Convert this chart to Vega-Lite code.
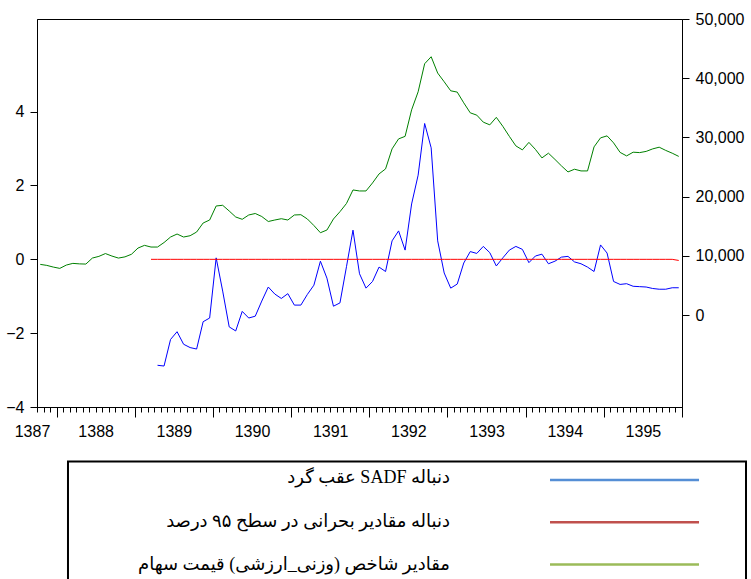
{
  "$schema": "https://vega.github.io/schema/vega-lite/v6.json",
  "autosize": {"type": "pad"},
  "padding": {"left": 5, "top": 10, "right": 0, "bottom": 0},
  "background": "white",
  "bounds": "flush",
  "spacing": 43.5,
  "config": {
    "font": "Liberation Sans",
    "axis": {"labelFont": "Liberation Sans", "labelFontSize": 16, "labelColor": "black", "domainColor": "black", "tickColor": "black", "grid": false, "title": null}
  },
  "datasets": {
    "index": [
      {"t":0,"value":8573},{"t":1,"value":8404},{"t":2,"value":8117},{"t":3,"value":7897},{"t":4,"value":8455},{"t":5,"value":8742},{"t":6,"value":8658},{"t":7,"value":8624},{"t":8,"value":9639},{"t":9,"value":9926},
      {"t":10,"value":10400},{"t":11,"value":9977},{"t":12,"value":9639},{"t":13,"value":9842},{"t":14,"value":10281},{"t":15,"value":11330},{"t":16,"value":11786},{"t":17,"value":11499},{"t":18,"value":11499},{"t":19,"value":12260},
      {"t":20,"value":13190},{"t":21,"value":13697},{"t":22,"value":13190},{"t":23,"value":13410},{"t":24,"value":14035},{"t":25,"value":15557},{"t":26,"value":16064},{"t":27,"value":18432},{"t":28,"value":18550},{"t":29,"value":17586},
      {"t":30,"value":16572},{"t":31,"value":16183},{"t":32,"value":16910},{"t":33,"value":17164},{"t":34,"value":16656},{"t":35,"value":15811},{"t":36,"value":16064},{"t":37,"value":16284},{"t":38,"value":16064},{"t":39,"value":16910},
      {"t":40,"value":16961},{"t":41,"value":16234},{"t":42,"value":15134},{"t":43,"value":13917},{"t":44,"value":14373},{"t":45,"value":16234},{"t":46,"value":17468},{"t":47,"value":18854},{"t":48,"value":21137},{"t":49,"value":20968},
      {"t":50,"value":20968},{"t":51,"value":22321},{"t":52,"value":23843},{"t":53,"value":24689},{"t":54,"value":28071},{"t":55,"value":29761},{"t":56,"value":30184},{"t":57,"value":34665},{"t":58,"value":37709},{"t":59,"value":42443},
      {"t":60,"value":43627},{"t":61,"value":40871},{"t":62,"value":39400},{"t":63,"value":37878},{"t":64,"value":37659},{"t":65,"value":35849},{"t":66,"value":34158},{"t":67,"value":33769},{"t":68,"value":32585},{"t":69,"value":32129},
      {"t":70,"value":33397},{"t":71,"value":31875},{"t":72,"value":30184},{"t":73,"value":28578},{"t":74,"value":27902},{"t":75,"value":29170},{"t":76,"value":27986},{"t":77,"value":26549},{"t":78,"value":27343},{"t":79,"value":26295},
      {"t":80,"value":25196},{"t":81,"value":24181},{"t":82,"value":24638},{"t":83,"value":24350},{"t":84,"value":24350},{"t":85,"value":28409},{"t":86,"value":29931},{"t":87,"value":30269},{"t":88,"value":29085},{"t":89,"value":27479},
      {"t":90,"value":26887},{"t":91,"value":27513},{"t":92,"value":27445},{"t":93,"value":27648},{"t":94,"value":28071},{"t":95,"value":28358},{"t":96,"value":27817},{"t":97,"value":27343},{"t":98,"value":26802}
    ],
    "sadf": [
      {"t":18,"value":-2.87},{"t":19,"value":-2.89},{"t":20,"value":-2.17},{"t":21,"value":-1.96},{"t":22,"value":-2.30},{"t":23,"value":-2.39},{"t":24,"value":-2.43},{"t":25,"value":-1.69},{"t":26,"value":-1.59},{"t":27,"value":0.04},
      {"t":28,"value":-0.86},{"t":29,"value":-1.83},{"t":30,"value":-1.94},{"t":31,"value":-1.41},{"t":32,"value":-1.59},{"t":33,"value":-1.54},{"t":34,"value":-1.13},{"t":35,"value":-0.75},{"t":36,"value":-0.94},{"t":37,"value":-1.06},
      {"t":38,"value":-0.93},{"t":39,"value":-1.24},{"t":40,"value":-1.24},{"t":41,"value":-0.95},{"t":42,"value":-0.70},{"t":43,"value":-0.05},{"t":44,"value":-0.51},{"t":45,"value":-1.27},{"t":46,"value":-1.18},{"t":47,"value":-0.2},
      {"t":48,"value":0.79},{"t":49,"value":-0.39},{"t":50,"value":-0.78},{"t":51,"value":-0.60},{"t":52,"value":-0.21},{"t":53,"value":-0.33},{"t":54,"value":0.50},{"t":55,"value":0.77},{"t":56,"value":0.25},{"t":57,"value":1.50},
      {"t":58,"value":2.28},{"t":59,"value":3.68},{"t":60,"value":3.02},{"t":61,"value":0.50},{"t":62,"value":-0.37},{"t":63,"value":-0.78},{"t":64,"value":-0.67},{"t":65,"value":-0.10},{"t":66,"value":0.21},{"t":67,"value":0.16},
      {"t":68,"value":0.35},{"t":69,"value":0.18},{"t":70,"value":-0.18},{"t":71,"value":0.04},{"t":72,"value":0.25},{"t":73,"value":0.35},{"t":74,"value":0.27},{"t":75,"value":-0.09},{"t":76,"value":0.09},{"t":77,"value":0.14},
      {"t":78,"value":-0.12},{"t":79,"value":-0.05},{"t":80,"value":0.06},{"t":81,"value":0.08},{"t":82,"value":-0.07},{"t":83,"value":-0.12},{"t":84,"value":-0.21},{"t":85,"value":-0.33},{"t":86,"value":0.39},{"t":87,"value":0.17},
      {"t":88,"value":-0.60},{"t":89,"value":-0.68},{"t":90,"value":-0.66},{"t":91,"value":-0.73},{"t":92,"value":-0.74},{"t":93,"value":-0.75},{"t":94,"value":-0.79},{"t":95,"value":-0.81},{"t":96,"value":-0.81},{"t":97,"value":-0.77},
      {"t":98,"value":-0.77}
    ],
    "cv": [
      {"t":17,"value":0},{"t":18,"value":0},{"t":19,"value":0},{"t":20,"value":0},{"t":21,"value":0},{"t":22,"value":0},{"t":23,"value":0},{"t":24,"value":0},{"t":25,"value":0},{"t":26,"value":0},
      {"t":27,"value":0},{"t":28,"value":0},{"t":29,"value":0},{"t":30,"value":0},{"t":31,"value":0},{"t":32,"value":0},{"t":33,"value":0},{"t":34,"value":0},{"t":35,"value":0},{"t":36,"value":0},
      {"t":37,"value":0},{"t":38,"value":0},{"t":39,"value":0},{"t":40,"value":0},{"t":41,"value":0},{"t":42,"value":0},{"t":43,"value":0},{"t":44,"value":0},{"t":45,"value":0},{"t":46,"value":0},
      {"t":47,"value":0},{"t":48,"value":0},{"t":49,"value":0},{"t":50,"value":0},{"t":51,"value":0},{"t":52,"value":0},{"t":53,"value":0},{"t":54,"value":0},{"t":55,"value":0},{"t":56,"value":0},
      {"t":57,"value":0},{"t":58,"value":0},{"t":59,"value":0},{"t":60,"value":0},{"t":61,"value":0},{"t":62,"value":0},{"t":63,"value":0},{"t":64,"value":0},{"t":65,"value":0},{"t":66,"value":0},
      {"t":67,"value":0},{"t":68,"value":0},{"t":69,"value":0},{"t":70,"value":0},{"t":71,"value":0},{"t":72,"value":0},{"t":73,"value":0},{"t":74,"value":0},{"t":75,"value":0},{"t":76,"value":0},
      {"t":77,"value":0},{"t":78,"value":0},{"t":79,"value":0},{"t":80,"value":0},{"t":81,"value":0},{"t":82,"value":0},{"t":83,"value":0},{"t":84,"value":0},{"t":85,"value":0},{"t":86,"value":0},
      {"t":87,"value":0},{"t":88,"value":0},{"t":89,"value":0},{"t":90,"value":0},{"t":91,"value":0},{"t":92,"value":0},{"t":93,"value":0},{"t":94,"value":0},{"t":95,"value":0},{"t":96,"value":0},
      {"t":97,"value":0},{"t":98,"value":-0.03}
    ],
    "legend": [
      {"series": "sadf", "label": "\u202bدنباله SADF عقب گرد\u202c"},
      {"series": "cv", "label": "\u202bدنباله مقادیر بحرانی در سطح ۹۵ درصد\u202c"},
      {"series": "index", "label": "\u202bمقادیر شاخص (وزنی_ارزشی) قیمت سهام\u202c"}
    ]
  },
  "vconcat": [
    {
      "width": 645,
      "height": 388,
      "view": {"stroke": "black", "strokeWidth": 1},
      "layer": [
        {
          "data": {"name": "index"},
          "mark": {"type": "line", "color": "#008000", "strokeWidth": 1},
          "encoding": {
            "x": {"field": "t", "type": "quantitative", "scale": {"domain": [-0.5, 98.5], "nice": false, "zero": false},
              "axis": {"values": [-0.5,0.5,1.5,2.5,3.5,4.5,5.5,6.5,7.5,8.5,9.5,10.5,11.5,12.5,13.5,14.5,15.5,16.5,17.5,18.5,19.5,20.5,21.5,22.5,23.5,24.5,25.5,26.5,27.5,28.5,29.5,30.5,31.5,32.5,33.5,34.5,35.5,36.5,37.5,38.5,39.5,40.5,41.5,42.5,43.5,44.5,45.5,46.5,47.5,48.5,49.5,50.5,51.5,52.5,53.5,54.5,55.5,56.5,57.5,58.5,59.5,60.5,61.5,62.5,63.5,64.5,65.5,66.5,67.5,68.5,69.5,70.5,71.5,72.5,73.5,74.5,75.5,76.5,77.5,78.5,79.5,80.5,81.5,82.5,83.5,84.5,85.5,86.5,87.5,88.5,89.5,90.5,91.5,92.5,93.5,94.5,95.5,96.5,97.5,98.5],
                "tickCount": 1000,
                "labelExpr": "datum.value == -0.5 ? '1387' : ((datum.value - 8.5) % 12 == 0 ? '' + (1388 + (datum.value - 8.5) / 12) : '')",
                "tickSize": {"condition": {"test": "(datum.value - 2.5) % 12 == 0", "value": 10}, "value": 5},
                "labelOffset": {"condition": {"test": "datum.value == -0.5", "value": -5}, "value": 0},
                "labelFlush": false, "labelOverlap": false, "labelBound": false, "labelPadding": 11}},
            "y": {"field": "value", "type": "quantitative", "scale": {"domain": [-15506, 50000], "nice": false, "zero": false},
              "axis": {"orient": "right", "values": [0, 10000, 20000, 30000, 40000, 50000], "labelExpr": "format(datum.value, ',')", "tickSize": 7, "labelPadding": 6}}
          }
        },
        {
          "layer": [
            {
              "data": {"name": "sadf"},
              "mark": {"type": "line", "color": "#0000FF", "strokeWidth": 1},
              "encoding": {
                "x": {"field": "t", "type": "quantitative", "scale": {"domain": [-0.5, 98.5], "nice": false, "zero": false}},
                "y": {"field": "value", "type": "quantitative", "scale": {"domain": [-4, 6.51], "nice": false, "zero": false},
                  "axis": {"orient": "left", "values": [-4, -2, 0, 2, 4], "tickSize": 7, "labelPadding": 6}}
              }
            },
            {
              "data": {"name": "cv"},
              "mark": {"type": "line", "color": "#FF0000", "strokeWidth": 1},
              "encoding": {
                "x": {"field": "t", "type": "quantitative"},
                "y": {"field": "value", "type": "quantitative"}
              }
            }
          ]
        }
      ],
      "resolve": {"scale": {"y": "independent"}}
    },
    {
      "width": 714,
      "height": 130,
      "view": {"stroke": null},
      "layer": [
        {
          "data": {"values": [{"item": "legend frame"}]},
          "mark": {"type": "rect", "filled": false, "stroke": "black", "strokeWidth": 2},
          "encoding": {
            "x": {"datum": 4.34, "type": "quantitative", "scale": {"domain": [0, 100], "nice": false, "zero": false}, "axis": null},
            "x2": {"datum": 99.3},
            "y": {"datum": 0, "type": "quantitative", "scale": {"domain": [0, 1], "range": [11, 140], "nice": false, "zero": false}, "axis": null},
            "y2": {"datum": 1}
          }
        },
        {
          "data": {"name": "legend"},
          "mark": {"type": "text", "align": "right", "baseline": "alphabetic", "font": "Liberation Serif, DejaVu Sans", "fontSize": 18, "color": "black"},
          "encoding": {
            "x": {"datum": 57.84, "type": "quantitative"},
            "y": {"field": "series", "type": "nominal", "scale": {"type": "point", "domain": ["sadf", "cv", "index"], "range": [32.8, 119.8], "padding": 0}, "axis": null},
            "text": {"field": "label"}
          }
        },
        {
          "data": {"name": "legend"},
          "mark": {"type": "rule", "strokeWidth": 2.5},
          "encoding": {
            "x": {"datum": 71.85, "type": "quantitative"},
            "x2": {"datum": 92.72},
            "y": {"field": "series", "type": "nominal", "scale": {"type": "point", "domain": ["sadf", "cv", "index"], "range": [29.4, 114.1], "padding": 0}, "axis": null},
            "color": {"field": "series", "type": "nominal", "scale": {"domain": ["sadf", "cv", "index"], "range": ["#558ED5", "#C0504D", "#9BBB59"]}, "legend": null}
          }
        }
      ],
      "resolve": {"scale": {"y": "independent"}}
    }
  ]
}
